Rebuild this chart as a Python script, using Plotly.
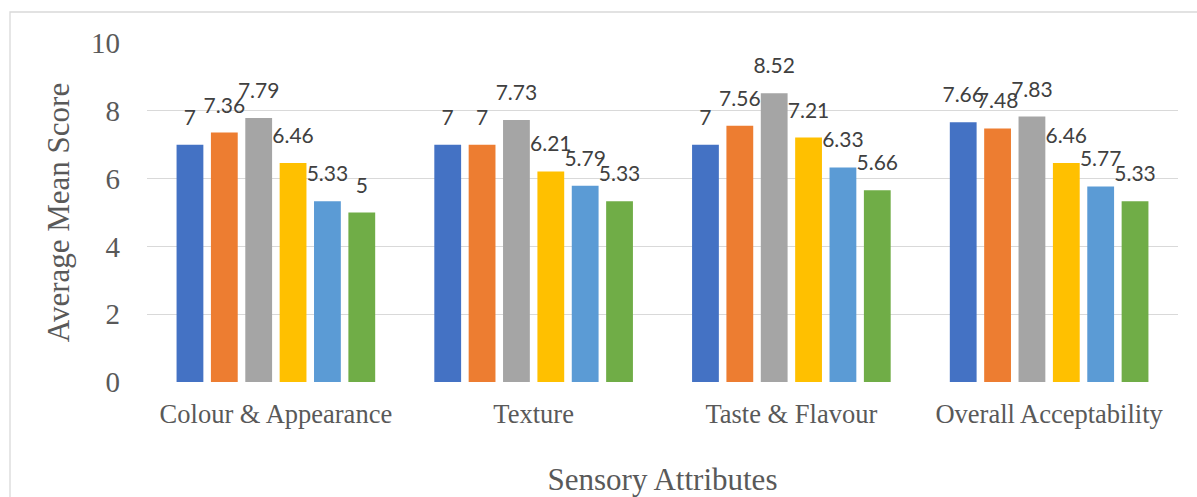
import plotly.graph_objects as go

# Sensory evaluation scores by attribute, one series per sample
categories = ["Colour & Appearance", "Texture", "Taste & Flavour", "Overall Acceptability"]
series_names = ["S1", "S2", "S3", "S4", "S5", "S6"]
s1 = [7, 7, 7, 7.66]
s2 = [7.36, 7, 7.56, 7.48]
s3 = [7.79, 7.73, 8.52, 7.83]
s4 = [6.46, 6.21, 7.21, 6.46]
s5 = [5.33, 5.79, 6.33, 5.77]
s6 = [5, 5.33, 5.66, 5.33]
all_series = [s1, s2, s3, s4, s5, s6]
y_ticks = [0, 2, 4, 6, 8, 10]

colors = ["#4472C4", "#ED7D31", "#A5A5A5", "#FFC000", "#5B9BD5", "#70AD47"]

W, H = 1197, 497
ML, MR, MT, MB = 147, 19, 43, 115
PW, PH = W - ML - MR, H - MT - MB

serif = "Times New Roman, Liberation Serif, serif"
label_font = "Lato, Calibri, Carlito, sans-serif"

fig = go.Figure()

for name, vals, col in zip(series_names, all_series, colors):
    fig.add_trace(go.Bar(
        x=categories, y=vals, name=name,
        marker=dict(color=col, line=dict(width=0)),
        hoverinfo="skip",
    ))

# value labels above each bar, grouped the same way as the bars
for name, vals in zip(series_names, all_series):
    fig.add_trace(go.Scatter(
        x=categories, y=vals, name=name,
        mode="markers+text",
        text=[f"{v:g}" for v in vals],
        textposition="top center",
        textfont=dict(family=label_font, size=21, color="#404040"),
        marker=dict(size=22, color="rgba(0,0,0,0)"),
        cliponaxis=False,
        showlegend=False,
        hoverinfo="skip",
    ))

# chart frame (extends past the visible page on the right and bottom)
fig.add_shape(
    type="rect", xref="paper", yref="paper",
    x0=(10 - ML) / PW, x1=(W + 20 - ML) / PW,
    y0=(MB - H - 20) / PH, y1=(H - 12 - MB) / PH,
    line=dict(color="#D9D9D9", width=1.3),
    fillcolor="rgba(0,0,0,0)", layer="below",
)

fig.update_layout(
    width=W, height=H,
    margin=dict(l=ML, r=MR, t=MT, b=MB, autoexpand=False),
    paper_bgcolor="white", plot_bgcolor="white",
    barmode="group", bargap=0.2, bargroupgap=0.22,
    scattermode="group", scattergap=0.2,
    showlegend=False,
    xaxis=dict(
        type="category",
        showgrid=False, zeroline=False, showline=False, ticks="",
        tickfont=dict(family=serif, size=26.5, color="#595959"),
        ticklabelstandoff=13,
        title=dict(text="Sensory Attributes",
                   font=dict(family=serif, size=31, color="#595959"),
                   standoff=44),
    ),
    yaxis=dict(
        range=[0, 10], tickvals=y_ticks,
        showgrid=True, gridcolor="#D9D9D9", gridwidth=1.3,
        zeroline=False, showline=False, ticks="",
        tickfont=dict(family=serif, size=29, color="#595959"),
        ticklabelstandoff=26,
        title=dict(text="Average Mean Score",
                   font=dict(family=serif, size=31, color="#595959"),
                   standoff=12),
    ),
)

fig.write_html("out.html")
